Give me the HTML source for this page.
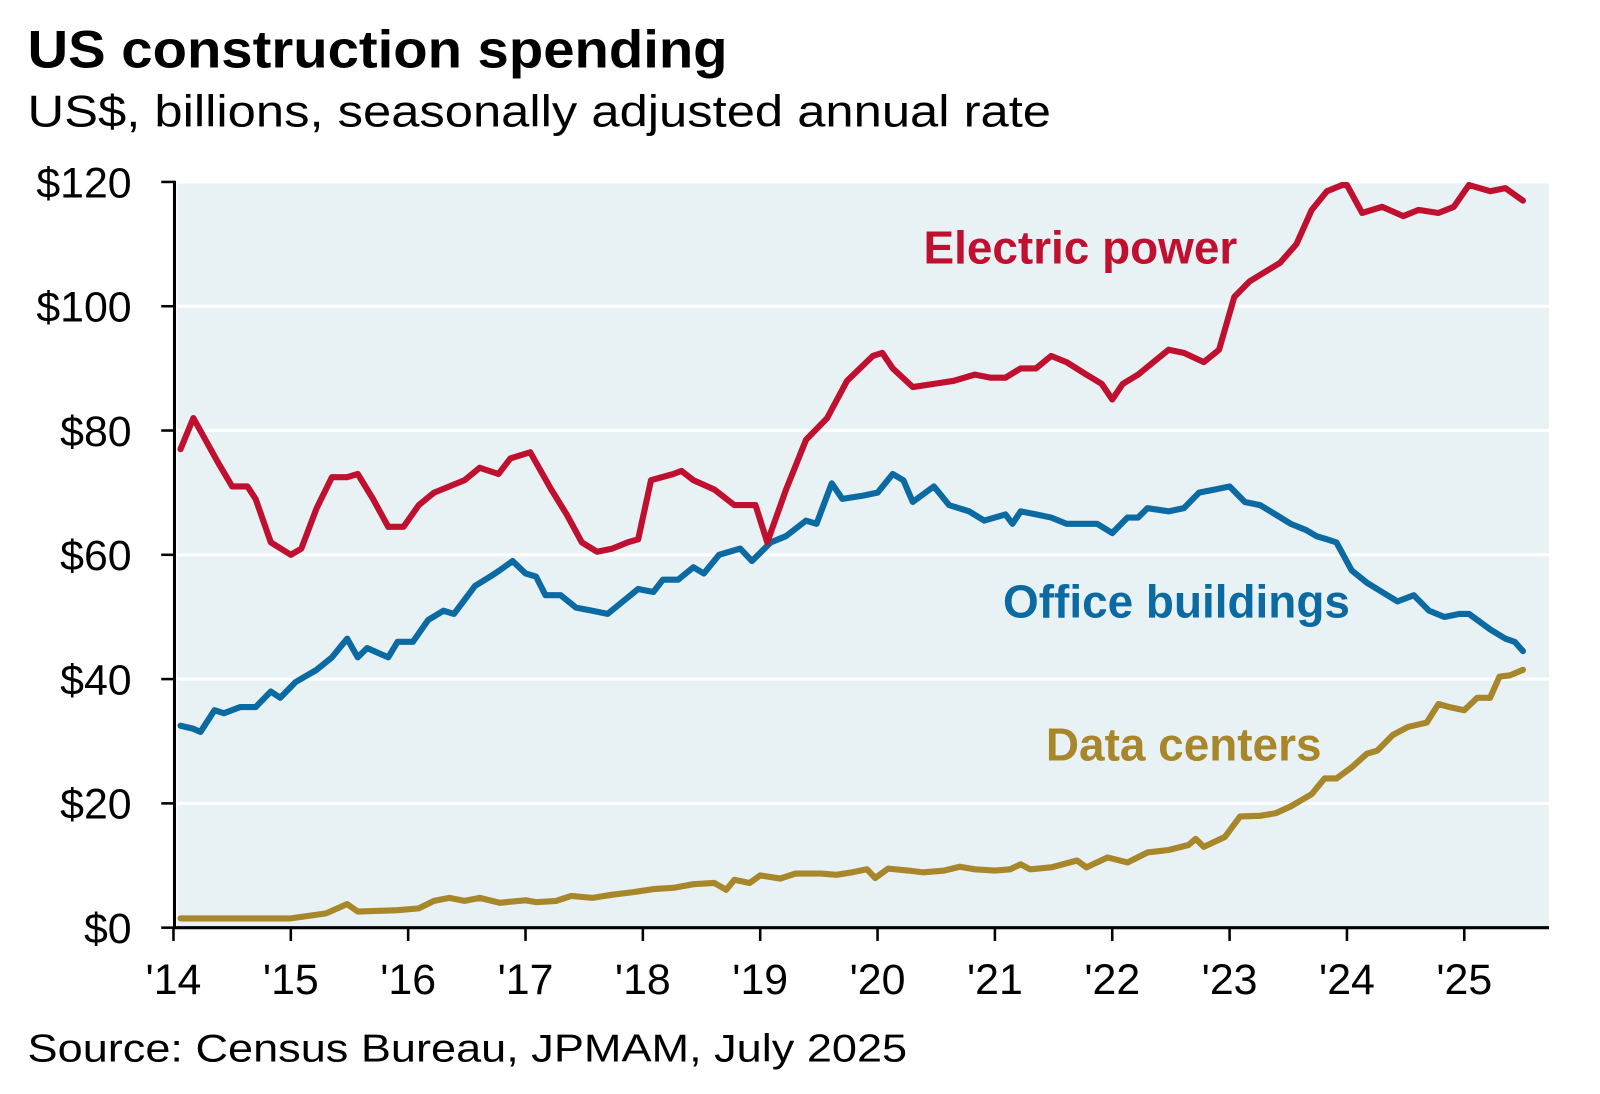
<!DOCTYPE html>
<html><head><meta charset="utf-8"><style>
body{margin:0;background:#fff;}
svg text{font-family:"Liberation Sans",Arial,sans-serif;}
</style></head><body>
<svg id="chart" width="1600" height="1089" viewBox="0 0 1568 1067" xmlns="http://www.w3.org/2000/svg">
<text x="27" y="66" font-size="52" font-weight="bold" textLength="686" lengthAdjust="spacingAndGlyphs">US construction spending</text>
<text x="27" y="124" font-size="44" textLength="1003" lengthAdjust="spacingAndGlyphs">US$, billions, seasonally adjusted annual rate</text>
<rect x="174" y="179" width="1344" height="730" fill="#e8f1f4"/>
<g id="grid"></g>
<g id="axes"></g>
<g id="series"></g>
<text x="905" y="258" font-size="45" font-weight="bold" fill="#c0102f">Electric power</text>
<text x="983" y="605" font-size="45" font-weight="bold" fill="#0a6aa1">Office buildings</text>
<text x="1025" y="745" font-size="45" font-weight="bold" fill="#a8862a">Data centers</text>
<text x="27" y="1040" font-size="38" textLength="862" lengthAdjust="spacingAndGlyphs">Source: Census Bureau, JPMAM, July 2025</text>
</svg>
<script>
// years since 2000
const yTicks = [0,20,40,60,80,100,120];
const xTickYears = [14,15,16,17,18,19,20,21,22,23,24,25];
const elecT = [14.06,14.17,14.39,14.50,14.63,14.70,14.83,15.00,15.09,15.22,15.35,15.48,15.57,15.70,15.83,15.96,16.09,16.22,16.35,16.48,16.61,16.77,16.87,17.04,17.22,17.35,17.48,17.61,17.74,17.87,17.96,18.07,18.26,18.33,18.43,18.61,18.78,18.96,19.06,19.22,19.39,19.57,19.74,19.96,20.04,20.13,20.30,20.48,20.65,20.83,20.96,21.09,21.22,21.35,21.48,21.61,21.78,21.91,22.00,22.09,22.22,22.35,22.48,22.61,22.78,22.91,23.04,23.17,23.30,23.43,23.57,23.70,23.83,23.96,24.00,24.13,24.30,24.48,24.61,24.78,24.91,25.04,25.22,25.35,25.50];
const elecV = [77,82,74.5,71,71,69,62,60,61,67.5,72.5,72.5,73,69,64.5,64.5,68,70,71,72,74,73,75.5,76.5,70.5,66.5,62,60.5,61,62,62.5,72,73,73.5,72,70.5,68,68,62,70.5,78.5,82,88,92,92.5,90,87,87.5,88,89,88.5,88.5,90,90,92,91,89,87.5,85,87.5,89,91,93,92.5,91,93,101.5,104,105.5,107,110,115.5,118.5,119.5,119.5,115,116,114.5,115.5,115,116,119.5,118.5,119,117];
const officeT = [14.06,14.17,14.23,14.35,14.43,14.57,14.70,14.83,14.91,15.04,15.22,15.35,15.48,15.57,15.65,15.83,15.91,16.04,16.17,16.30,16.39,16.57,16.70,16.78,16.89,17.00,17.09,17.17,17.30,17.43,17.57,17.70,17.83,17.96,18.09,18.17,18.30,18.43,18.52,18.65,18.83,18.93,19.09,19.22,19.39,19.48,19.61,19.70,19.87,20.00,20.13,20.22,20.30,20.48,20.61,20.78,20.91,21.09,21.15,21.22,21.35,21.48,21.61,21.78,21.87,22.00,22.13,22.22,22.30,22.48,22.61,22.74,22.87,23.00,23.13,23.26,23.39,23.52,23.65,23.74,23.83,23.91,24.04,24.17,24.30,24.43,24.57,24.70,24.83,24.96,25.04,25.22,25.35,25.43,25.50];
const officeV = [32.5,32,31.5,35,34.5,35.5,35.5,38,37,39.5,41.5,43.5,46.5,43.5,45,43.5,46,46,49.5,51,50.5,55,56.5,57.5,59,57,56.5,53.5,53.5,51.5,51,50.5,52.5,54.5,54,56,56,58,57,60,61,59,62,63,65.5,65,71.5,69,69.5,70,73,72,68.5,71,68,67,65.5,66.5,65,67,66.5,66,65,65,65,63.5,66,66,67.5,67,67.5,70,70.5,71,68.5,68,66.5,65,64,63,62.5,62,57.5,55.5,54,52.5,53.5,51,50,50.5,50.5,48,46.5,46,44.5];
const dcT = [14.06,15.00,15.30,15.48,15.57,15.91,16.09,16.22,16.35,16.48,16.61,16.78,17.00,17.09,17.26,17.39,17.57,17.74,17.91,18.09,18.26,18.43,18.61,18.71,18.78,18.91,19.00,19.17,19.30,19.52,19.65,19.78,19.91,19.98,20.09,20.26,20.39,20.57,20.70,20.83,21.00,21.13,21.22,21.30,21.48,21.70,21.78,21.96,22.13,22.30,22.48,22.65,22.71,22.78,22.96,23.09,23.26,23.39,23.52,23.70,23.81,23.91,24.04,24.17,24.26,24.39,24.52,24.68,24.78,24.87,25.00,25.11,25.22,25.30,25.39,25.50];
const dcV = [1.5,1.5,2.3,3.8,2.6,2.8,3.1,4.3,4.8,4.3,4.8,4,4.4,4.1,4.3,5.1,4.8,5.3,5.7,6.2,6.4,7,7.2,6.1,7.7,7.2,8.4,7.9,8.7,8.7,8.5,8.9,9.4,8,9.5,9.2,8.9,9.2,9.8,9.4,9.2,9.4,10.2,9.4,9.7,10.8,9.7,11.3,10.5,12.1,12.5,13.3,14.3,13,14.6,17.9,18,18.4,19.5,21.5,24,24,25.8,28,28.5,31,32.3,33,36,35.5,35,37,37,40.4,40.6,41.5];

const NS = "http://www.w3.org/2000/svg";
const X0 = 170, PX_YEAR = 115, Y0 = 909, PX_USD = 6.09;
function xs(t){ return X0 + (t - 14) * PX_YEAR; }
function ys(v){ return Y0 - v * PX_USD; }
function mk(tag, attrs, parent){ const e = document.createElementNS(NS, tag); for (const k in attrs) e.setAttribute(k, attrs[k]); parent.appendChild(e); return e; }

const grid = document.getElementById('grid');
const axes = document.getElementById('axes');
yTicks.forEach(v => {
  if (v > 0) {
    const g = mk('line', {x1:174, x2:1518, y1:ys(v), y2:ys(v), stroke:'#fff', 'stroke-width':3}, grid);
    
    
  }
  const tk = mk('line', {x1:158, x2:172, y1:ys(v), y2:ys(v), stroke:'#000', 'stroke-width':2.5}, axes);
  
  
  const lb = mk('text', {x:129, y:ys(v)+15, 'font-size':42, 'text-anchor':'end'}, axes);
  lb.textContent = '$' + v;
  
  
});
const ya = mk('line', {x1:171, x2:171, y1:ys(120)-1, y2:Y0+1, stroke:'#000', 'stroke-width':3}, axes);


const xa = mk('line', {x1:170, x2:1518, y1:Y0, y2:Y0, stroke:'#000', 'stroke-width':3}, axes);


xTickYears.forEach(t => {
  const tk = mk('line', {x1:xs(t), x2:xs(t), y1:Y0, y2:Y0+13, stroke:'#000', 'stroke-width':2.5}, axes);
  
  
  const lb = mk('text', {x:xs(t), y:Y0+65, 'font-size':42, 'text-anchor':'middle'}, axes);
  lb.textContent = "'" + t;
  
  
});
const ser = document.getElementById('series');
function drawLine(T, V, color, name){
  const pts = T.map((t,i) => xs(t).toFixed(1) + ',' + ys(V[i]).toFixed(1)).join(' ');
  const p = mk('polyline', {points:pts, fill:'none', stroke:color, 'stroke-width':6, 'stroke-linejoin':'round', 'stroke-linecap':'round'}, ser);
  
  
}
drawLine(dcT, dcV, '#a8862a', 'data-centers-line');
drawLine(officeT, officeV, '#0a6aa1', 'office-buildings-line');
drawLine(elecT, elecV, '#c0102f', 'electric-power-line');
</script>
</body></html>
